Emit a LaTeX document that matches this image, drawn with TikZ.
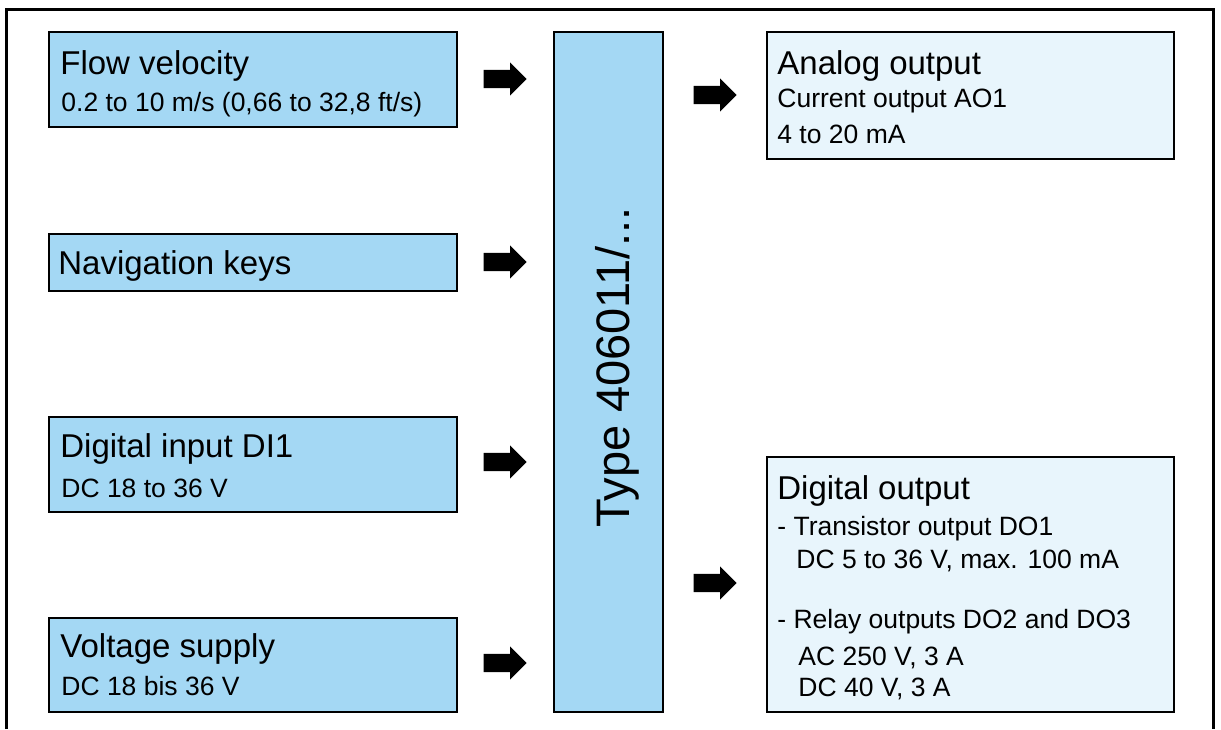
\documentclass[tikz,border=0pt]{standalone}
\usepackage{fontspec}
\setmainfont{Liberation Sans}
\usetikzlibrary{shapes.arrows}
\definecolor{inblue}{HTML}{A4D8F4}
\definecolor{outblue}{HTML}{E8F5FC}
\begin{document}
\begin{tikzpicture}[x=0.5pt,y=-0.5pt,
  box/.style={draw=black,line width=1pt,inner sep=0pt,anchor=north west},
  inbox/.style={box,fill=inblue},
  outbox/.style={box,fill=outblue},
  ttl/.style={inner sep=0pt,anchor=base west,font=\fontsize{16.5pt}{19pt}\selectfont},
  sub/.style={inner sep=0pt,anchor=base west,font=\fontsize{13.25pt}{16pt}\selectfont},
  blockarrow/.style={single arrow,fill=black,draw=none,inner xsep=0pt,inner ysep=4.4pt,minimum height=21.5pt,minimum width=0pt,single arrow head extend=3.7pt}
]
\useasboundingbox (0,0) rectangle (1221,729);
\draw[line width=1.25pt] (6.5,729) -- (6.5,9.5) -- (1213.5,9.5) -- (1213.5,729);

% input boxes
\node[inbox,minimum width=204pt,minimum height=47.5pt] (flow) at (48,31) {};
\node[ttl] (flowT) at (60,74) {Flow velocity};
\node[sub] (flowS) at (61,111) {0.2 to 10 m/s (0,66 to 32,8 ft/s)};

\node[inbox,minimum width=204pt,minimum height=28.5pt] (nav) at (48,233) {};
\node[ttl] (navT) at (58,274) {Navigation keys};

\node[inbox,minimum width=204pt,minimum height=47.5pt] (di) at (48,416) {};
\node[ttl] (diT) at (60,457) {Digital input DI1};
\node[sub] (diS) at (61,497) {DC 18 to 36 V};

\node[inbox,minimum width=204pt,minimum height=47pt] (vs) at (48,617) {};
\node[ttl] (vsT) at (60,657) {Voltage supply};
\node[sub] (vsS) at (61,695) {DC 18 bis 36 V};

% central box
\node[inbox,minimum width=54.5pt,minimum height=340pt] (type) at (553,31) {};
\node[inner sep=0pt,anchor=base west,rotate=90,font=\fontsize{23.5pt}{28pt}\selectfont] (typeT) at (629,528) {Type 406011/...};

% output boxes
\node[outbox,minimum width=203.5pt,minimum height=63.5pt] (ao) at (766,31) {};
\node[ttl] (aoT) at (777,74) {Analog output};
\node[sub] (aoS1) at (777,107) {Current output AO1};
\node[sub] (aoS2) at (777,143) {4 to 20 mA};

\node[outbox,minimum width=203.5pt,minimum height=127.5pt] (do) at (766,456) {};
\node[ttl] (doT) at (777,499) {Digital output};
\node[sub] (doS1) at (777,535) {- Transistor output DO1};
\node[sub] (doS2) at (796,568) {DC 5 to 36 V, max. 100 mA};
\node[sub] (doS3) at (777,628) {- Relay outputs DO2 and DO3};
\node[sub] (doS4) at (798,665) {AC 250 V, 3 A};
\node[sub] (doS5) at (798,696) {DC 40 V, 3 A};

% block arrows
\node[blockarrow] (a1) at (500.5,79) {};
\node[blockarrow] (a2) at (500.5,262) {};
\node[blockarrow] (a3) at (500.5,462) {};
\node[blockarrow] (a4) at (500.5,663) {};
\node[blockarrow] (a5) at (710.5,95) {};
\node[blockarrow] (a6) at (710.5,583) {};
\end{tikzpicture}
\end{document}
